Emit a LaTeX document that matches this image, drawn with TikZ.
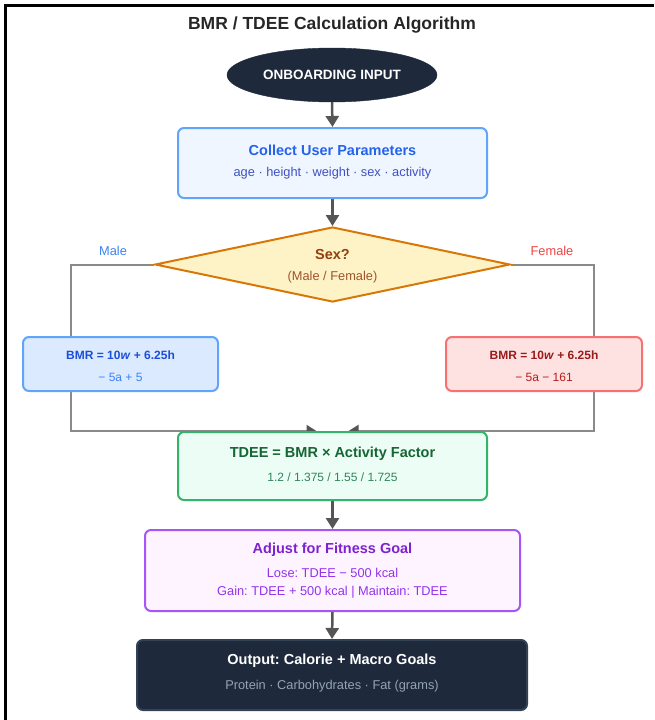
\documentclass[tikz,border=0pt]{standalone}
\usepackage{fontspec}
\setmainfont{Liberation Sans}
\usetikzlibrary{arrows.meta,shapes.geometric,calc}
\pgfdeclarelayer{bg}
\pgfsetlayers{bg,main}
\frenchspacing
\definecolor{navy}{HTML}{1E293B}
\definecolor{navyedge}{HTML}{334155}
\definecolor{arrowgray}{HTML}{555555}
\definecolor{linegray}{HTML}{8A8A8A}
\definecolor{bluefill}{HTML}{EFF6FF}
\definecolor{blueedge}{HTML}{60A5FA}
\definecolor{bluetitle}{HTML}{2563EB}
\definecolor{bluesub}{HTML}{3F51C4}
\definecolor{yelfill}{HTML}{FEF3C7}
\definecolor{yeledge}{HTML}{D97706}
\definecolor{browntext}{HTML}{92400E}
\definecolor{brownsub}{HTML}{A0522D}
\definecolor{malefill}{HTML}{DBEAFE}
\definecolor{maletext}{HTML}{1D4ED8}
\definecolor{malesub}{HTML}{3B82F6}
\definecolor{femfill}{HTML}{FEE2E2}
\definecolor{femedge}{HTML}{F87171}
\definecolor{femtext}{HTML}{991B1B}
\definecolor{femsub}{HTML}{B91C1C}
\definecolor{femlabel}{HTML}{EF4444}
\definecolor{grnfill}{HTML}{ECFDF5}
\definecolor{grnedge}{HTML}{34B36A}
\definecolor{grntext}{HTML}{166534}
\definecolor{grnsub}{HTML}{2F855A}
\definecolor{purfill}{HTML}{FDF4FF}
\definecolor{puredge}{HTML}{A855F7}
\definecolor{purtext}{HTML}{7E22CE}
\definecolor{pursub}{HTML}{9333EA}
\definecolor{outsub}{HTML}{94A3B8}
\tikzset{
  boxstyle/.style={draw, rounded corners=6pt, line width=2pt, inner sep=0pt},
  ttl/.style={font=\bfseries\fontsize{14.5}{16}\selectfont, inner sep=0pt},
  sub/.style={font=\fontsize{12.8}{15}\selectfont, inner sep=0pt},
  small/.style={font=\fontsize{12}{14}\selectfont, inner sep=0pt},
  smallb/.style={font=\bfseries\fontsize{12}{14}\selectfont, inner sep=0pt},
  flow/.style={draw=arrowgray, line width=2.5pt, -{Triangle[width=13pt,length=11pt]}},
  branch/.style={draw=linegray, line width=2pt},
  merge/.style={draw=linegray, line width=2pt, -{Triangle[width=12pt,length=10pt,color=arrowgray]}},
}
\begin{document}
\begin{tikzpicture}[x=1pt,y=-1pt]
\useasboundingbox (0,0) rectangle (654,720);
% frame
\draw[black, line width=3pt] (5.5,720) -- (5.5,5) -- (654,5);

\node[font=\bfseries\fontsize{17.5}{20}\selectfont, text=black!85] (title) at (332,25) {BMR / TDEE Calculation Algorithm};

\node[ellipse, fill=navy, draw=navy, minimum width=210pt, minimum height=54pt, inner sep=0pt,
      text=white, font=\bfseries\fontsize{13.5}{16}\selectfont] (start) at (332,75) {ONBOARDING INPUT};

\node[boxstyle, fill=bluefill, draw=blueedge, minimum width=309pt, minimum height=70pt] (collect) at (332.5,163) {};
\node[ttl, text=bluetitle] (collectT) at (332.5,150) {Collect User Parameters};
\node[sub, text=bluesub] (collectS) at (332.5,173) {age · height · weight · sex · activity};

\node[diamond, fill=yelfill, draw=yeledge, line width=2pt, minimum width=355pt, minimum height=75pt, inner sep=0pt] (sex) at (332.5,264.5) {};
\node[ttl, text=browntext] (sexT) at (332.5,255) {Sex?};
\node[sub, text=brownsub] (sexS) at (332.5,277) {(Male / Female)};

\node[sub, text=malesub] (maleL) at (113,251) {Male};
\node[sub, text=femlabel] (femL) at (552,251) {Female};

\node[boxstyle, fill=malefill, draw=blueedge, minimum width=195pt, minimum height=54pt] (male) at (120.5,364) {};
\node[smallb, text=maletext] (maleT) at (120.5,355) {BMR = 10\textit{w} + 6.25h};
\node[small, text=malesub] (maleS) at (120.5,377) {− 5a + 5};

\node[boxstyle, fill=femfill, draw=femedge, minimum width=196pt, minimum height=54pt] (fem) at (544,364) {};
\node[smallb, text=femtext] (femT) at (544,355) {BMR = 10\textit{w} + 6.25h};
\node[small, text=femsub] (femS) at (544,377) {− 5a − 161};

\node[boxstyle, fill=grnfill, draw=grnedge, minimum width=309pt, minimum height=68pt] (tdee) at (332.5,466) {};
\node[ttl, text=grntext] (tdeeT) at (332.5,454) {TDEE = BMR × Activity Factor};
\node[small, text=grnsub] (tdeeS) at (332.5,477) {1.2 / 1.375 / 1.55 / 1.725};

\node[boxstyle, fill=purfill, draw=puredge, minimum width=375pt, minimum height=81pt] (goal) at (332.5,570.5) {};
\node[ttl, text=purtext] (goalT) at (332.5,550) {Adjust for Fitness Goal};
\node[sub, text=pursub] (goalS1) at (332.5,573) {Lose: TDEE − 500 kcal};
\node[sub, text=pursub] (goalS2) at (332.5,592) {Gain: TDEE + 500 kcal | Maintain: TDEE};

\node[boxstyle, fill=navy, draw=navyedge, minimum width=390pt, minimum height=70pt] (out) at (332,675) {};
\node[ttl, text=white] (outT) at (332,661) {Output: Calorie + Macro Goals};
\node[sub, text=outsub] (outS) at (332,686) {Protein · Carbohydrates · Fat (grams)};

\begin{pgfonlayer}{bg}
\draw[flow] (start.south) -- (collect.north);
\draw[flow] (collect.south) -- (sex.north);
\draw[branch] (sex.west) -| ([xshift=49pt]male.north west);
\draw[branch] (sex.east) -| ([xshift=-49pt]fem.north east);
\draw[merge] ([xshift=49pt]male.south west) |- ([xshift=-16pt]tdee.north);
\draw[merge] ([xshift=-49pt]fem.south east) |- ([xshift=16pt]tdee.north);
\draw[flow] (tdee.south) -- (goal.north);
\draw[flow] (goal.south) -- (out.north);
\end{pgfonlayer}
\end{tikzpicture}
\end{document}
